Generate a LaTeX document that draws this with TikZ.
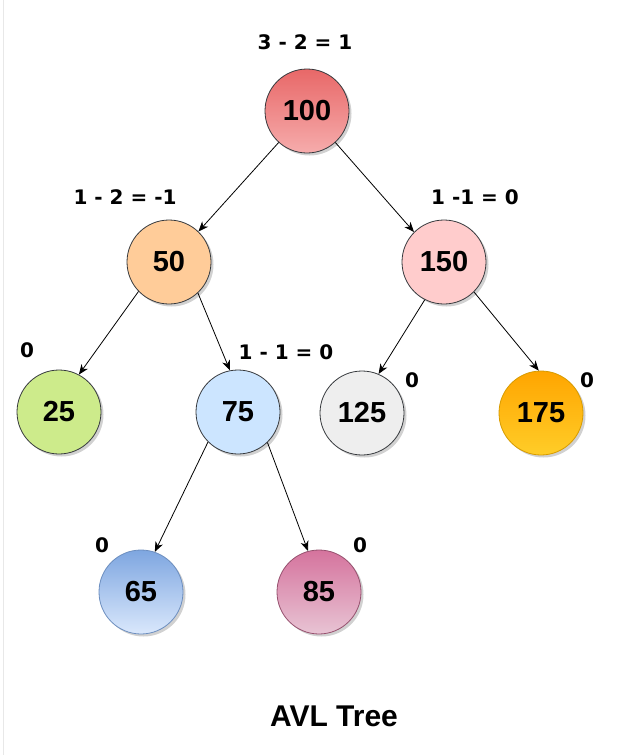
\documentclass[tikz,border=0pt]{standalone}
\usepackage{fontspec}
\setmainfont{Liberation Sans}
\newfontfamily\lblfont{DejaVu Sans}
\usetikzlibrary{arrows.meta,shadows}
\definecolor{strk}{HTML}{36393D}
\tikzset{
  tnode/.style={circle, draw=strk, line width=0.8pt, minimum size=84pt, inner sep=0pt,
    font=\fontsize{29}{34}\selectfont\bfseries,
    drop shadow={shadow xshift=2.5pt, shadow yshift=-2.5pt, opacity=0.18, fill=black}},
  lbl/.style={inner sep=0pt, font=\lblfont\fontsize{20}{24}\selectfont\bfseries},
  edge/.style={draw=black, line width=0.8pt, -{Stealth[length=10pt,width=8pt,inset=3pt]}},
}
\begin{document}
\begin{tikzpicture}[x=1pt,y=-1pt]
\useasboundingbox (0,0) rectangle (635,755);
\fill[white] (0,0) rectangle (635,755);
\draw[draw=black!9, line width=1pt] (3,0) -- (3,755);

% nodes
\node[tnode, top color={rgb,255:red,232;green,104;blue,104}, bottom color={rgb,255:red,246;green,172;blue,172}] (n100) at (307,111) {100};
\node[tnode, fill={rgb,255:red,255;green,204;blue,153}] (n50) at (169,262) {50};
\node[tnode, fill={rgb,255:red,255;green,204;blue,204}] (n150) at (444,262) {150};
\node[tnode, fill={rgb,255:red,205;green,235;blue,139}] (n25) at (59,412) {25};
\node[tnode, fill={rgb,255:red,204;green,229;blue,255}] (n75) at (238,412) {75};
\node[tnode, fill={rgb,255:red,238;green,238;blue,238}] (n125) at (362,413) {125};
\node[tnode, top color={rgb,255:red,255;green,165;blue,0}, bottom color={rgb,255:red,255;green,205;blue,40}, draw={rgb,255:red,215;green,155;blue,0}] (n175) at (541,413) {175};
\node[tnode, top color={rgb,255:red,126;green,166;blue,224}, bottom color={rgb,255:red,218;green,232;blue,252}, draw={rgb,255:red,108;green,142;blue,191}] (n65) at (141,592) {65};
\node[tnode, top color={rgb,255:red,213;green,115;blue,157}, bottom color={rgb,255:red,232;green,196;blue,212}, draw={rgb,255:red,150;green,80;blue,110}] (n85) at (319,592) {85};

% labels
\node[lbl] (l100) at (305,42) {3 - 2 = 1};
\node[lbl] (l50) at (125,197) {1 - 2 = -1};
\node[lbl] (l150) at (475,197) {1 -1 = 0};
\node[lbl] (l75) at (286,352) {1 - 1 = 0};
\node[lbl] (l25) at (27,350) {0};
\node[lbl] (l125) at (412,380) {0};
\node[lbl] (l175) at (587,380) {0};
\node[lbl] (l65) at (102,545) {0};
\node[lbl] (l85) at (360,545) {0};
\node[inner sep=0pt, font=\fontsize{30}{36}\selectfont\bfseries] (title) at (334,716) {AVL Tree};

% edges
\draw[edge] (n100.-132) -- (n50.46);
\draw[edge] (n100.-48) -- (n150.135);
\draw[edge] (n50.-136) -- (n25.62);
\draw[edge] (n50.-47) -- (n75.101);
\draw[edge] (n150.-117) -- (n125.67);
\draw[edge] (n150.-45) -- (n175.93);
\draw[edge] (n75.-135) -- (n65.71);
\draw[edge] (n75.-46) -- (n85.105);
\end{tikzpicture}
\end{document}
